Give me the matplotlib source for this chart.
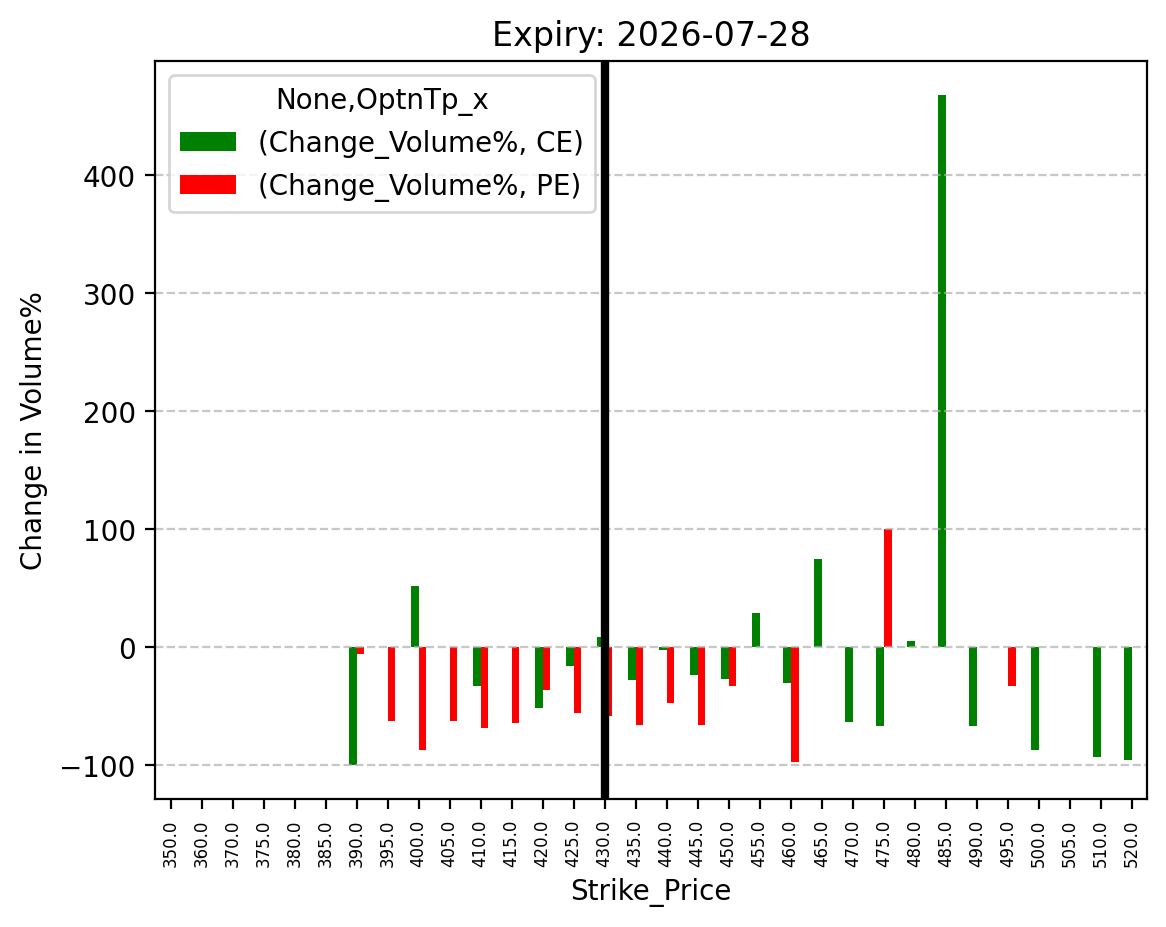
import numpy as np
import pandas as pd
import matplotlib
matplotlib.use('Agg')
import matplotlib.pyplot as plt

nan = np.nan

# strike prices (categorical axis)
strikes = [350.0, 360.0, 370.0, 375.0, 380.0, 385.0, 390.0, 395.0, 400.0, 405.0,
           410.0, 415.0, 420.0, 425.0, 430.0, 435.0, 440.0, 445.0, 450.0, 455.0,
           460.0, 465.0, 470.0, 475.0, 480.0, 485.0, 490.0, 495.0, 500.0, 505.0,
           510.0, 520.0]

# change in volume % for calls
ce_change = [nan, nan, nan, nan, nan, nan, -100, nan, 52, nan,
             -33, nan, -51, -16, 9, -28, -2.5, -23.5, -27, 29,
             -30, 75, -63, -66.5, 5.5, 468, -67, nan, -87, nan,
             -93, -95.5]

# change in volume % for puts
pe_change = [nan, nan, nan, nan, nan, nan, -6, -62, -87, -62,
             -68, -64, -36, -56, -58, -66, -47, -66, -33, nan,
             -97, nan, nan, 100, nan, nan, nan, -33, nan, nan,
             nan, nan]

expiry = "2026-07-28"
atm_strike = 430.0

df = pd.DataFrame({('Change_Volume%', 'CE'): ce_change,
                   ('Change_Volume%', 'PE'): pe_change},
                  index=pd.Index(strikes, name='Strike_Price'))
df.columns.names = [None, 'OptnTp_x']

fig, ax = plt.subplots(figsize=(5.83, 4.64), dpi=200)
fig.subplots_adjust(left=0.133, right=0.984, top=0.933, bottom=0.138)

df.plot(kind='bar', ax=ax, color=['green', 'red'])

# mark the ATM strike
ax.axvline(strikes.index(atm_strike), color='black', linewidth=3)

ax.set_title("Expiry: " + expiry)
ax.set_xlabel("Strike_Price")
ax.set_ylabel("Change in Volume%")
ax.tick_params(axis='x', labelsize=6)
ax.grid(axis='y', linestyle='--', alpha=0.7)

fig.savefig("out.png", dpi=200)
